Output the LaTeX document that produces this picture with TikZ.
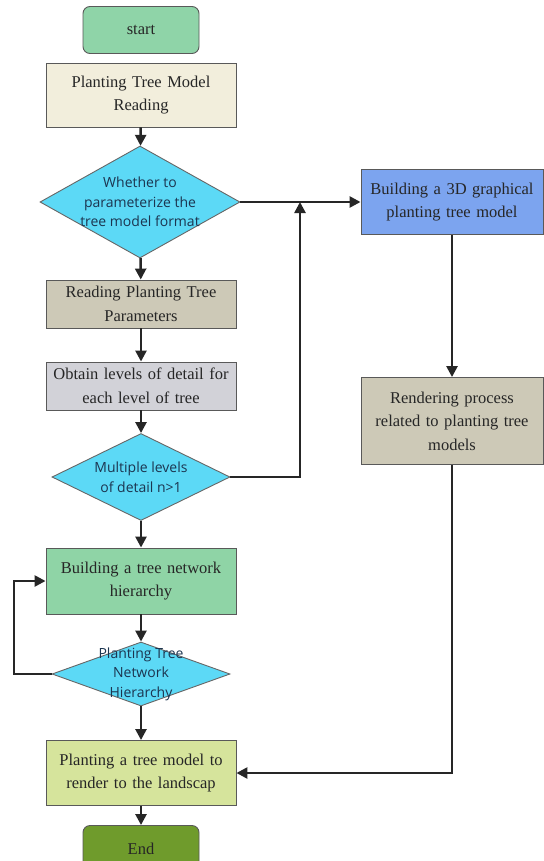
\documentclass[tikz,border=0pt]{standalone}
\usepackage{fontspec}
\setmainfont{Liberation Serif}
\newfontfamily\diafont{Open Sans}
\usetikzlibrary{shapes.geometric, arrows.meta, positioning}

\definecolor{startgreen}{HTML}{8FD4A8}
\definecolor{endgreen}{HTML}{6F9B2C}
\definecolor{beige}{HTML}{F2EEDC}
\definecolor{khaki}{HTML}{CDC9B7}
\definecolor{lightgray}{HTML}{D2D2D8}
\definecolor{netgreen}{HTML}{8FD4A6}
\definecolor{lime}{HTML}{D6E49C}
\definecolor{skyblue}{HTML}{5CD9F6}
\definecolor{blue3d}{HTML}{7CA4EF}
\definecolor{textdark}{HTML}{262626}
\definecolor{textblue}{HTML}{1C3550}

\begin{document}
\begin{tikzpicture}[x=1pt, y=-1pt,
		box/.style={draw=black!65, line width=0.9pt, minimum width=190pt, text width=186pt, align=center, inner sep=1pt, text=textdark, font=\fontsize{16.5}{23.5}\selectfont},
		term/.style={box, rounded corners=7pt, minimum width=116pt, text width=110pt, minimum height=47pt},
		dia/.style={draw=black!60, line width=0.9pt, diamond, fill=skyblue, inner sep=0pt},
		diatext/.style={align=center, text=textblue, font=\diafont\fontsize{14}{19.5}\selectfont},
		arr/.style={line width=2.5pt, black!85, -{Triangle[length=11pt, width=11pt]}},
		ln/.style={line width=2.5pt, black!85}]
		\useasboundingbox (0,0) rectangle (543,861);
		
		% left column
		\node[term, fill=startgreen] (start) at (141,30) {start};
		\node[box, fill=beige, minimum height=64pt] (model) at (141,95) {Planting Tree Model\\Reading};
		\node[dia, minimum width=200pt, minimum height=112pt] (d1) at (140,202) {};
		\node[diatext] (d1t) at (d1) {Whether to\\parameterize the\\tree model format};
		\node[box, fill=khaki, minimum height=48pt] (param) at (141,304) {Reading Planting Tree\\Parameters};
		\node[box, fill=lightgray, minimum height=48pt] (lod) at (141,386) {Obtain levels of detail for\\each level of tree};
		\node[dia, minimum width=178pt, minimum height=87pt] (d2) at (141,477) {};
		\node[diatext] (d2t) at (d2) {Multiple levels\\of detail n>1};
		\node[box, fill=netgreen, minimum height=66pt] (net) at (141,581) {Building a tree network\\hierarchy};
		\node[dia, minimum width=178pt, minimum height=64pt] (d3) at (141,674) {};
		\node[diatext] (d3t) at (d3) {Planting Tree\\Network\\Hierarchy};
		\node[box, fill=lime, minimum height=65pt] (land) at (141,773) {Planting a tree model to\\render to the landscap};
		\node[term, fill=endgreen] (end) at (141,849) {End};
		
		% right column
		\node[box, fill=blue3d, minimum width=182pt, text width=178pt, minimum height=65pt] (build) at (452,202) {Building a 3D graphical\\planting tree model};
		\node[box, fill=khaki, minimum width=182pt, text width=178pt, minimum height=87pt] (render) at (452,421) {Rendering process\\related to planting tree\\models};
		
		\coordinate (join) at (300,202);
		\coordinate (loop) at (14,674);
		
		\draw[arr] (model) -- (d1);
		\draw[arr] (d1) -- (param);
		\draw[arr] (param) -- (lod);
		\draw[arr] (lod) -- (d2);
		\draw[arr] (d2) -- (net);
		\draw[arr] (net) -- (d3);
		\draw[arr] (d3) -- (land);
		\draw[arr] (land) -- (end);
		
		\draw[arr] (d1.east) -- (build.west);
		\draw[arr] (d2.east) -| (join);
		\draw[arr] (build) -- (render);
		\draw[arr] (render.south) |- (land.east);
		\draw[arr] (d3.west) -- (loop) |- (net.west);
	\end{tikzpicture}
\end{document}
